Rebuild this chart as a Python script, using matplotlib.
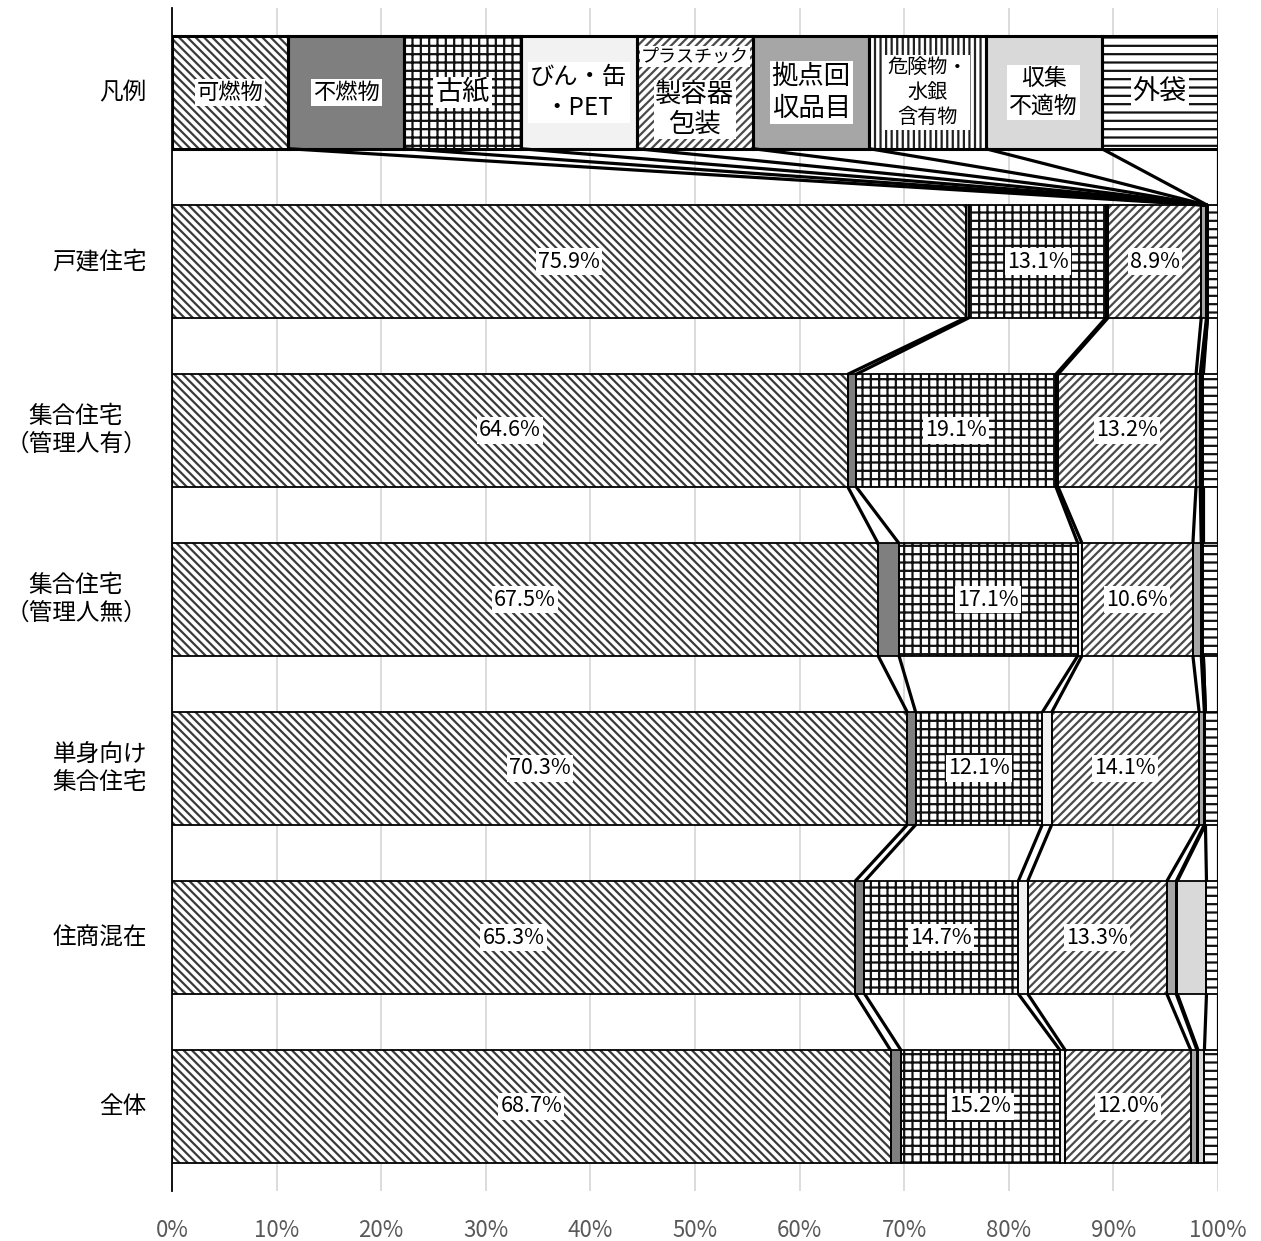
import matplotlib
matplotlib.use('Agg')
import matplotlib.pyplot as plt
import numpy as np

plt.rcParams['font.family'] = ['Noto Sans CJK JP', 'DejaVu Sans']
plt.rcParams['hatch.linewidth'] = 1.6

# rows of the chart, top to bottom (row 0 is the legend strip)
categories = ['凡例', '戸建住宅', '集合住宅\n（管理人有）', '集合住宅\n（管理人無）',
              '単身向け\n集合住宅', '住商混在', '全体']

series = ['可燃物', '不燃物', '古紙', 'びん・缶・PET', 'プラスチック製容器包装',
          '拠点回収品目', '危険物・水銀含有物', '収集不適物', '外袋']

# composition (%) per housing type, in series order
kodate = [75.9, 0.3, 13.1, 0.2, 8.9, 0.5, 0.1, 0.0, 1.0]
shugo_kanri_ari = [64.6, 0.8, 19.1, 0.2, 13.2, 0.4, 0.2, 0.1, 1.4]
shugo_kanri_nashi = [67.5, 2.0, 17.1, 0.4, 10.6, 0.8, 0.2, 0.0, 1.4]
tanshin = [70.3, 0.8, 12.1, 0.9, 14.1, 0.5, 0.1, 0.0, 1.2]
jusho = [65.3, 0.9, 14.7, 0.9, 13.3, 0.9, 0.1, 2.8, 1.1]
zentai = [68.7, 1.0, 15.2, 0.5, 12.0, 0.6, 0.1, 0.6, 1.3]

# legend strip: nine equal cells
legend_vals = [100 / 9] * 9
legend_labels = ['可燃物', '不燃物', '古紙', 'びん・缶\n・PET', '製容器\n包装',
                 '拠点回\n収品目', '危険物・\n水銀\n含有物', '収集\n不適物', '外袋']
legend_sizes = [16, 16, 19.5, 17.5, 19, 19, 14.5, 16.5, 19.5]

labeled = [0, 2, 4]  # series that get a value label

face = ['white', '#7f7f7f', 'white', '#f2f2f2', 'white', '#a6a6a6', 'white', '#d9d9d9', 'white']
hatches = ['\\\\\\\\', None, '++', None, '////', None, '|||', None, '--']
hcolor = ['#3a3a3a', '#7f7f7f', '#111111', '#f2f2f2', '#4a4a4a', '#a6a6a6', '#222222', '#d9d9d9', '#111111']

rows = [legend_vals, kodate, shugo_kanri_ari, shugo_kanri_nashi, tanshin, jusho, zentai]
h = 0.665

fig = plt.figure(figsize=(12.61, 12.41), dpi=100)
ax = fig.add_axes([172 / 1261, 1 - 1191 / 1241, 1046 / 1261, 1183 / 1241])

ends = []
for i, vals in enumerate(rows):
    cum = np.cumsum(vals)
    ends.append(cum)
    lefts = cum - np.array(vals)
    edge_lw = 2.2 if i == 0 else 1.3
    for s, v in enumerate(vals):
        if v <= 0:
            continue
        ax.barh(i, v, left=lefts[s], height=h, color=face[s], edgecolor=hcolor[s],
                hatch=hatches[s], linewidth=0, zorder=2)
        ax.barh(i, v, left=lefts[s], height=h, fill=False, edgecolor='black',
                linewidth=edge_lw, zorder=3)
        if i > 0 and s in labeled:
            ax.text(lefts[s] + v / 2, i, f'{v:.1f}%', ha='center', va='center',
                    fontsize=15.5, zorder=5,
                    bbox=dict(facecolor='white', edgecolor='none', pad=1.5))

# legend cell captions
lcum = ends[0]
for s, lab in enumerate(legend_labels):
    cx = lcum[s] - legend_vals[s] / 2
    if s == 4:
        ax.text(cx, -0.215, 'プラスチック', ha='center', va='center', fontsize=13,
                zorder=5, bbox=dict(facecolor='white', edgecolor='none', pad=1.0))
        ax.text(cx, 0.1, lab, ha='center', va='center', fontsize=legend_sizes[s],
                linespacing=1.15, zorder=5,
                bbox=dict(facecolor='white', edgecolor='none', pad=1.0))
        continue
    ax.text(cx, 0, lab, ha='center', va='center', fontsize=legend_sizes[s],
            linespacing=1.25, zorder=5,
            bbox=dict(facecolor='white', edgecolor='none', pad=1.5))

# series lines between neighbouring bars
for i in range(len(rows) - 1):
    top = ends[i]
    bot = ends[i + 1]
    for s in range(len(series)):
        if i == 0:
            # legend cells fan in to the first bar's edge before 外袋
            xb = bot[-1] if s == len(series) - 1 else bot[-2]
        else:
            xb = bot[s]
        ax.plot([top[s], xb], [i + h / 2, i + 1 - h / 2], color='black',
                linewidth=2.3, solid_capstyle='butt', zorder=4)

ax.set_xlim(0, 100)
ax.set_ylim(len(rows) - 0.5, -0.5)
ax.set_xticks(np.arange(0, 101, 10))
ax.set_xticklabels([f'{t}%' for t in range(0, 101, 10)])
ax.set_yticks(range(len(rows)))
ax.set_yticklabels([])
for i, lab in enumerate(categories):
    ax.text(-0.024, i, lab, transform=ax.get_yaxis_transform(), ha='right', va='center',
            multialignment='center', fontsize=17, linespacing=1.3)

ax.grid(axis='x', color='#d9d9d9', linewidth=1.3, zorder=0)
ax.set_axisbelow(True)
for side in ['top', 'right', 'bottom']:
    ax.spines[side].set_visible(False)
ax.spines['left'].set_color('black')
ax.spines['left'].set_linewidth(1.3)
ax.tick_params(axis='both', length=0)
ax.tick_params(axis='x', labelsize=16, labelcolor='#595959', pad=20)

fig.savefig('out.png', dpi=100, facecolor='white')
